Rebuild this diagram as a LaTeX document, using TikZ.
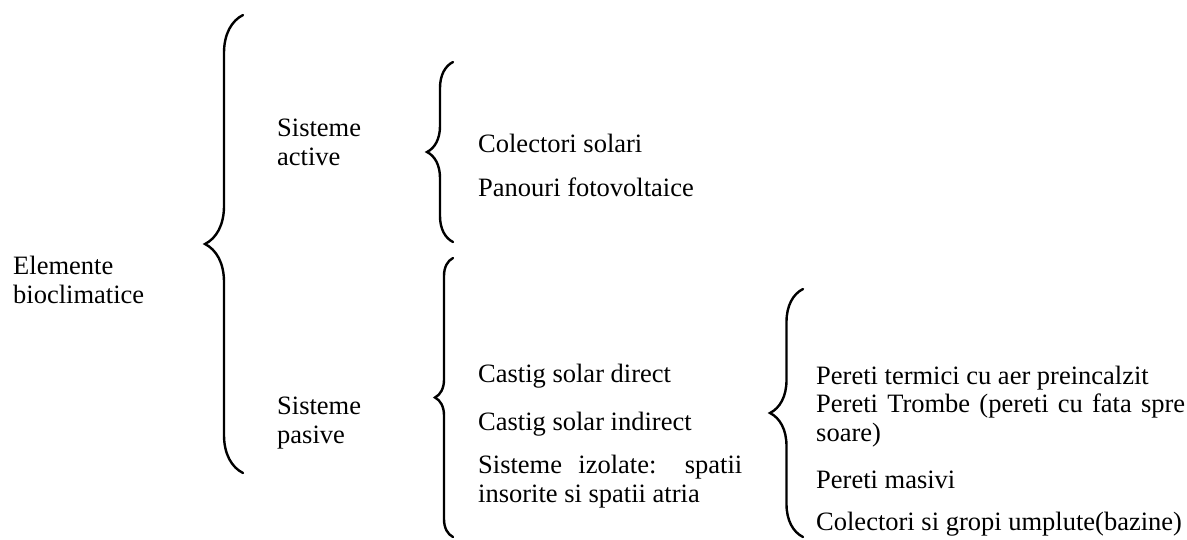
\documentclass[tikz,border=0pt]{standalone}
\usepackage{fontspec}
\setmainfont{Liberation Serif}
\usetikzlibrary{decorations.pathreplacing}

\begin{document}
\begin{tikzpicture}[
    x=1pt, y=-1pt,
    every node/.style={inner sep=0pt, font=\fontsize{26.5}{29}\selectfont},
    group text/.style={align=left, anchor=base west},
    item/.style={anchor=base west},
    long item/.style={anchor=base west, text width=#1, align=justify},
    curly/.style={decorate, decoration={brace, amplitude=#1}, line width=2.4pt, line cap=round}
]
\useasboundingbox (0,0) rectangle (1187,539);

% Braces
\draw[curly=38pt] (243,473) -- (243,15);
\draw[curly=26pt] (453,242) -- (453,62);
\draw[curly=18pt] (453,537) -- (453,258);
\draw[curly=33pt] (803,537) -- (803,289);

% Left: main element (base = last line)
\node[group text] (elem) at (13,303) {Elemente\\bioclimatice};

% Middle: systems
\node[group text] (active) at (277,165) {Sisteme\\active};
\node[group text] (pasive) at (277,443) {Sisteme\\pasive};

% Active systems
\node[item] (collect) at (478,152) {Colectori solari};
\node[item] (panels) at (478,196) {Panouri fotovoltaice};

% Passive systems
\node[item] (direct) at (478,382) {Castig solar direct};
\node[item] (indirect) at (478,430) {Castig solar indirect};
\node[long item=264pt] (isolated) at (478,473) {Sisteme izolate: spatii\linebreak insorite si spatii atria};

% Walls
\node[item] (thermal) at (816,384) {Pereti termici cu aer preincalzit};
\node[long item=369pt] (trombe) at (816,412) {Pereti Trombe (pereti cu fata spre\linebreak soare)};
\node[item] (massive) at (816,488) {Pereti masivi};
\node[item] (basins) at (816,530) {Colectori si gropi umplute(bazine)};

\end{tikzpicture}
\end{document}
